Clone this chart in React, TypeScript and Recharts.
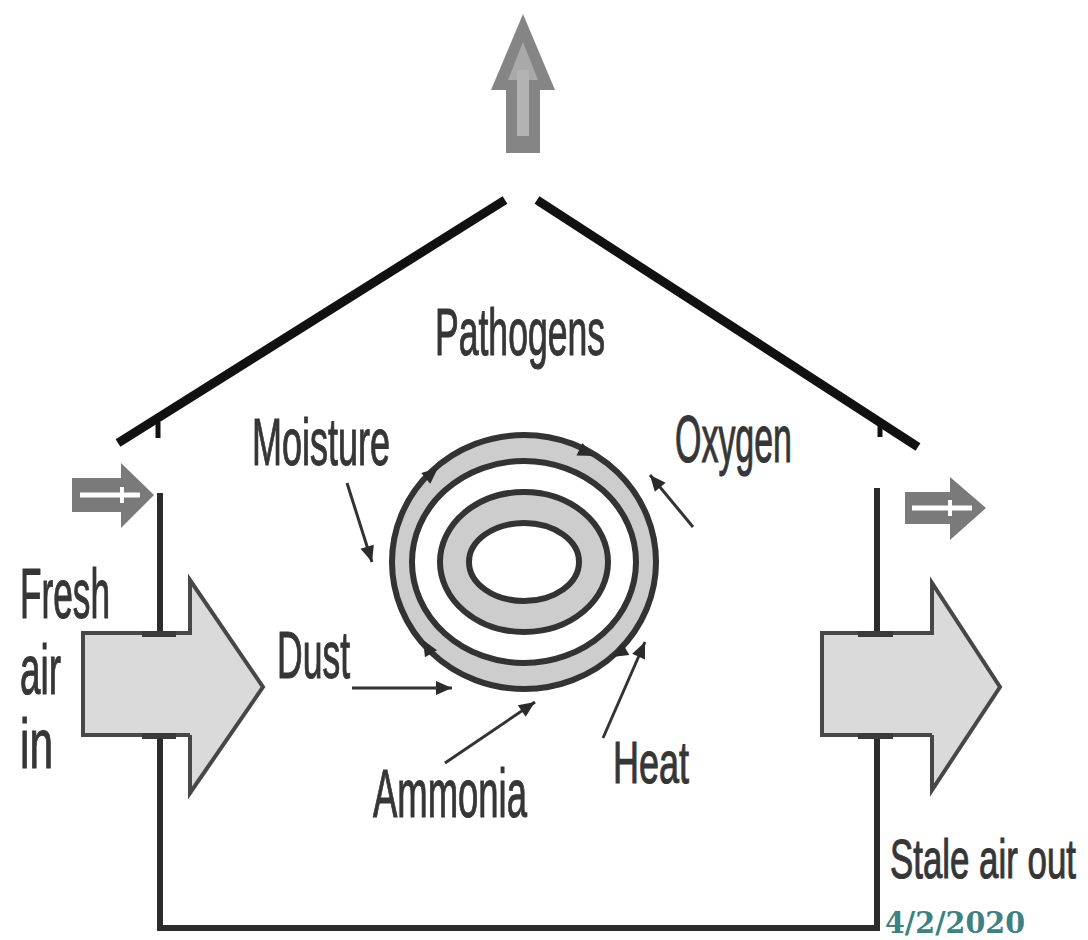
import {ComposedChart, XAxis, YAxis, Line, Area, Scatter} from 'recharts';

type P = {x: number; y: number};
type R = {x: number; r: [number, number]};

// everything is in the picture's own pixel units (x right, y down)

// house shell
const roofLeft: P[] = [{x: 118, y: 443}, {x: 505, y: 200}];
const roofRight: P[] = [{x: 537, y: 200}, {x: 918, y: 447}];
const roofTicks: P[][] = [
  [{x: 158, y: 422}, {x: 158, y: 438}],
  [{x: 880, y: 421}, {x: 880, y: 437}],
];
const leftWallTop: P[] = [{x: 160, y: 493}, {x: 160, y: 633}];
const rightWallTop: P[] = [{x: 877, y: 488}, {x: 877, y: 633}];
const wallsAndFloor: P[] = [{x: 160, y: 735}, {x: 160, y: 928}, {x: 877, y: 928}, {x: 877, y: 735}];
const wallStubs: P[][] = [
  [{x: 142, y: 634}, {x: 176, y: 634}],
  [{x: 142, y: 736}, {x: 176, y: 736}],
  [{x: 858, y: 634}, {x: 893, y: 634}],
  [{x: 858, y: 736}, {x: 893, y: 736}],
];

// big fresh / stale air arrows
const freshFill: R[] = [{x: 83, r: [633, 735]}, {x: 190, r: [633, 735]}, {x: 190, r: [580, 793]}, {x: 263, r: [687, 687]}];
const freshOutline: P[] = [
  {x: 190, y: 735}, {x: 83, y: 735}, {x: 83, y: 633}, {x: 190, y: 633},
  {x: 190, y: 580}, {x: 263, y: 687}, {x: 190, y: 793}, {x: 190, y: 735},
];
const staleFill: R[] = [{x: 822, r: [633, 735]}, {x: 932, r: [633, 735]}, {x: 932, r: [583, 790]}, {x: 1000, r: [687, 687]}];
const staleOutline: P[] = [
  {x: 932, y: 735}, {x: 822, y: 735}, {x: 822, y: 633}, {x: 932, y: 633},
  {x: 932, y: 583}, {x: 1000, y: 687}, {x: 932, y: 790}, {x: 932, y: 735},
];

// exhaust arrow on the ridge
const exhaustHead: R[] = [{x: 491, r: [90, 90]}, {x: 523, r: [14, 90]}, {x: 555, r: [90, 90]}];
const exhaustShaft: R[] = [{x: 506, r: [86, 153]}, {x: 540, r: [86, 153]}];
const exhaustInnerHead: R[] = [{x: 508, r: [80, 80]}, {x: 523, r: [42, 80]}, {x: 538, r: [80, 80]}];
const exhaustStripe: P[] = [{x: 523, y: 70}, {x: 523, y: 136}];

// small vent arrows
const ventIn: R[] = [{x: 72, r: [478, 512]}, {x: 121, r: [478, 512]}, {x: 121, r: [463, 528]}, {x: 154, r: [495, 495]}];
const ventInStripe: P[] = [{x: 80, y: 495}, {x: 140, y: 495}];
const ventInTick: P[] = [{x: 122, y: 487}, {x: 122, y: 503}];
const ventOut: R[] = [{x: 905, r: [492, 524]}, {x: 950, r: [492, 524]}, {x: 950, r: [477, 540]}, {x: 986, r: [508, 508]}];
const ventOutStripe: P[] = [{x: 912, y: 508}, {x: 972, y: 508}];
const ventOutTick: P[] = [{x: 950, y: 500}, {x: 950, y: 516}];

// swirl in the middle of the house
const swirlCentre: P[] = [{x: 524, y: 562}];
const ringMarks = [
  {x: 438, y: 468, dir: -40},
  {x: 594, y: 456, dir: 25},
  {x: 612, y: 657, dir: 150},
  {x: 423, y: 640, dir: -120},
];

// labelled pointer arrows
const pointers = [
  {name: 'moisture', from: {x: 347, y: 483}, to: {x: 372, y: 562}},
  {name: 'oxygen', from: {x: 693, y: 527}, to: {x: 650, y: 475}},
  {name: 'dust', from: {x: 352, y: 688}, to: {x: 452, y: 688}},
  {name: 'ammonia', from: {x: 445, y: 763}, to: {x: 535, y: 702}},
  {name: 'heat', from: {x: 603, y: 738}, to: {x: 645, y: 642}},
];

const labels = [
  {text: 'Pathogens', x: 435, y: 355, w: 170, size: 66},
  {text: 'Moisture', x: 252, y: 465, w: 138, size: 66},
  {text: 'Oxygen', x: 675, y: 462, w: 117, size: 66},
  {text: 'Fresh', x: 20, y: 618, w: 90, size: 70},
  {text: 'air', x: 20, y: 694, w: 41, size: 70},
  {text: 'in', x: 20, y: 768, w: 33, size: 70},
  {text: 'Dust', x: 277, y: 678, w: 73, size: 66},
  {text: 'Ammonia', x: 373, y: 817, w: 154, size: 68},
  {text: 'Heat', x: 613, y: 783, w: 76, size: 60},
  {text: 'Stale air out', x: 890, y: 878, w: 186, size: 56},
];
const dateLabel = [{text: '4/2/2020', x: 885, y: 933, w: 140}];

const INK = '#2b2b2b';
const TEXT = '#363636';
const STRETCH = 1.6;

const lineProps = {dot: false, activeDot: false, isAnimationActive: false, dataKey: 'y', legendType: 'none' as const};

const Ellipses = (p: any) => (
  <g>
    <ellipse cx={p.cx} cy={p.cy} rx={132} ry={127} fill="#cdcdcd" stroke="#333" strokeWidth={6} />
    <ellipse cx={p.cx} cy={p.cy} rx={112} ry={101} fill="#fff" stroke="#333" strokeWidth={6} />
    <ellipse cx={p.cx} cy={p.cy} rx={84} ry={70} fill="#cdcdcd" stroke="#333" strokeWidth={6} />
    <ellipse cx={p.cx} cy={p.cy} rx={55} ry={39} fill="#fff" stroke="#333" strokeWidth={6} />
  </g>
);

const Head = (p: any) => (
  <polygon
    points="0,0 -16,-7 -16,7"
    fill={INK}
    transform={`translate(${p.cx},${p.cy}) rotate(${p.payload.dir})`}
  />
);

// condensed look: a smaller font stretched upright
const TextMark = (p: any) => (
  <text
    x={0}
    y={0}
    transform={`translate(${p.cx},${p.cy}) scale(1,${STRETCH})`}
    fontFamily="'Liberation Sans Narrow', 'Liberation Sans', Arial, sans-serif"
    fontSize={p.payload.size / STRETCH}
    textLength={p.payload.w}
    lengthAdjust="spacingAndGlyphs"
    fill={TEXT}
    stroke={TEXT}
    strokeWidth={0.7}
  >
    {p.payload.text}
  </text>
);

const DateMark = (p: any) => (
  <text
    x={p.cx}
    y={p.cy}
    fontFamily="'DejaVu Serif', Georgia, serif"
    fontWeight="bold"
    fontSize={30}
    textLength={p.payload.w}
    lengthAdjust="spacingAndGlyphs"
    fill="#3d8185"
  >
    {p.payload.text}
  </text>
);

export default function App() {
  const tips = pointers.map((a) => ({
    x: a.to.x,
    y: a.to.y,
    dir: (Math.atan2(a.to.y - a.from.y, a.to.x - a.from.x) * 180) / Math.PI,
  }));

  return (
    <div style={{position: 'absolute', left: 0, top: 0, width: 1088, height: 940, background: '#fff'}}>
      <ComposedChart width={1088} height={940} margin={{top: 0, right: 0, bottom: 0, left: 0}}>
        <XAxis type="number" dataKey="x" domain={[0, 1088]} allowDataOverflow hide />
        <YAxis type="number" domain={[0, 940]} reversed allowDataOverflow hide width={0} />

        {/* exhaust arrow */}
        <Area data={exhaustShaft} dataKey="r" type="linear" fill="#858585" fillOpacity={1} stroke="none" isAnimationActive={false} />
        <Area data={exhaustHead} dataKey="r" type="linear" fill="#858585" fillOpacity={1} stroke="none" isAnimationActive={false} />
        <Area data={exhaustInnerHead} dataKey="r" type="linear" fill="#a9a9a9" fillOpacity={1} stroke="none" isAnimationActive={false} />
        <Line data={exhaustStripe} {...lineProps} stroke="#b3b3b3" strokeWidth={12} />

        {/* roof */}
        <Line data={roofLeft} {...lineProps} stroke="#111" strokeWidth={9} />
        <Line data={roofRight} {...lineProps} stroke="#111" strokeWidth={9} />
        {roofTicks.map((t, i) => (
          <Line key={`rt${i}`} data={t} {...lineProps} stroke="#111" strokeWidth={5} />
        ))}

        {/* walls and floor */}
        <Line data={leftWallTop} {...lineProps} stroke={INK} strokeWidth={6} />
        <Line data={rightWallTop} {...lineProps} stroke={INK} strokeWidth={6} />
        <Line data={wallsAndFloor} {...lineProps} stroke={INK} strokeWidth={6} />

        {/* vents */}
        <Area data={ventIn} dataKey="r" type="linear" fill="#7a7a7a" fillOpacity={1} stroke="none" isAnimationActive={false} />
        <Line data={ventInStripe} {...lineProps} stroke="#fff" strokeWidth={5} />
        <Line data={ventInTick} {...lineProps} stroke="#fff" strokeWidth={4} />
        <Area data={ventOut} dataKey="r" type="linear" fill="#7a7a7a" fillOpacity={1} stroke="none" isAnimationActive={false} />
        <Line data={ventOutStripe} {...lineProps} stroke="#fff" strokeWidth={5} />
        <Line data={ventOutTick} {...lineProps} stroke="#fff" strokeWidth={4} />

        {/* big air arrows */}
        <Area data={freshFill} dataKey="r" type="linear" fill="#dadada" fillOpacity={1} stroke="none" isAnimationActive={false} />
        <Line data={freshOutline} {...lineProps} stroke="#474747" strokeWidth={4} />
        <Area data={staleFill} dataKey="r" type="linear" fill="#dadada" fillOpacity={1} stroke="none" isAnimationActive={false} />
        <Line data={staleOutline} {...lineProps} stroke="#474747" strokeWidth={4} />
        {wallStubs.map((s, i) => (
          <Line key={`ws${i}`} data={s} {...lineProps} stroke="#3a3a3a" strokeWidth={6} />
        ))}

        {/* swirl */}
        <Scatter data={swirlCentre} dataKey="y" shape={Ellipses} isAnimationActive={false} />
        <Scatter data={ringMarks} dataKey="y" shape={Head} isAnimationActive={false} />

        {/* pointers */}
        {pointers.map((a) => (
          <Line key={a.name} data={[a.from, a.to]} {...lineProps} stroke="#333" strokeWidth={3} />
        ))}
        <Scatter data={tips} dataKey="y" shape={Head} isAnimationActive={false} />

        {/* labels */}
        <Scatter data={labels} dataKey="y" shape={TextMark} isAnimationActive={false} />
        <Scatter data={dateLabel} dataKey="y" shape={DateMark} isAnimationActive={false} />
      </ComposedChart>
    </div>
  );
}
